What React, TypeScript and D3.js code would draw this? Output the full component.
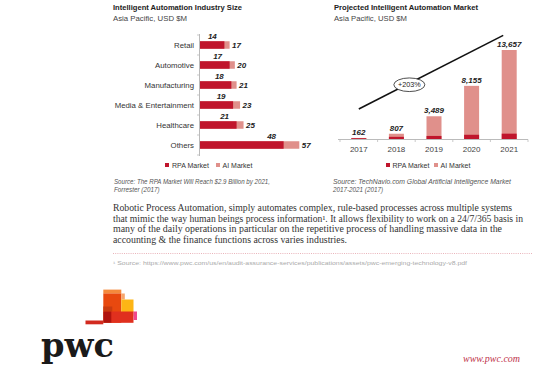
import React from "react";
import * as d3 from "d3";

const industries = ["Retail", "Automotive", "Manufacturing", "Media & Entertainment", "Healthcare", "Others"];
const industryRPA = [14, 17, 18, 19, 21, 48];
const industryTotal = [17, 20, 21, 23, 25, 57];

const years = ["2017", "2018", "2019", "2020", "2021"];
const yearTotal = [162, 807, 3489, 8155, 13657];
const yearTotalLabels = ["162", "807", "3,489", "8,155", "13,657"];
const yearRPA = [120, 330, 470, 650, 820];

const legendLabels = ["RPA Market", "AI Market"];
const growthLabel = "+203%";

const paragraph = [
  "Robotic Process Automation, simply automates complex, rule-based processes across multiple systems",
  "that mimic the way human beings process information\u00B9. It allows flexibility to work on a 24/7/365 basis in",
  "many of the daily operations in particular on the repetitive process of handling massive data in the",
  "accounting & the finance functions across varies industries.",
];

const RPA = "#c0152c";
const AI = "#e0908b";
const SANS = "'Liberation Sans', Arial, sans-serif";
const SERIF = "'Liberation Serif', 'DejaVu Serif', Georgia, serif";

export default function App() {
  // left chart scales
  const yBand = d3.scaleBand<string>().domain(industries).range([35, 155]);
  const xLin = d3.scaleLinear().domain([0, 57]).range([200, 299.3]);
  const barH = 7.5;

  // right chart scales
  const xBand = d3.scaleBand<string>().domain(years).range([340, 528]);
  const yLin = d3.scaleLinear().domain([0, 13657]).range([139, 50]);
  const bw = 15;

  const lx1 = xBand("2017")! + xBand.bandwidth() / 2;
  const ly1 = yLin(4600);
  const lx2 = xBand("2021")! + xBand.bandwidth() / 2 - 6;
  const ly2 = yLin(15900);
  const t = 0.35;
  const ex = lx1 + (lx2 - lx1) * t;
  const ey = ly1 + (ly2 - ly1) * t + 1.5;

  return (
    <svg width={554} height={379} style={{ position: "absolute", left: 0, top: 0, background: "#fff" }}>
      {/* LEFT CHART */}
      <text x={113} y={10} fontFamily={SANS} fontWeight="bold" fontSize={7.4} fill="#222" textLength={129} lengthAdjust="spacingAndGlyphs">Intelligent Automation Industry Size</text>
      <text x={113} y={21} fontFamily={SANS} fontSize={7.4} fill="#444" textLength={74} lengthAdjust="spacingAndGlyphs">Asia Pacific, USD $M</text>

      <line x1={199.5} x2={199.5} y1={34} y2={156} stroke="#bbb" strokeWidth={1} />
      {industries.map((c, i) => (
        <line key={"t" + i} x1={197} x2={199.5} y1={yBand(c)!} y2={yBand(c)!} stroke="#bbb" strokeWidth={0.8} />
      ))}
      <line x1={197} x2={199.5} y1={155} y2={155} stroke="#bbb" strokeWidth={0.8} />
      {industries.map((c, i) => {
        const cy = yBand(c)! + yBand.bandwidth() / 2;
        return (
          <g key={c}>
            <text x={194} y={cy + 2.8} textAnchor="end" fontFamily={SANS} fontSize={7.8} fill="#333">{c}</text>
            <rect x={xLin(0)} y={cy - barH / 2} width={xLin(industryTotal[i]) - xLin(0)} height={barH} fill={AI} />
            <rect x={xLin(0)} y={cy - barH / 2} width={xLin(industryRPA[i]) - xLin(0)} height={barH} fill={RPA} />
            <text x={xLin(industryRPA[i]) - 12} y={cy - barH / 2 - 2} textAnchor="middle" fontFamily={SANS} fontWeight="bold" fontStyle="italic" fontSize={8} fill="#222">{industryRPA[i]}</text>
            <text x={xLin(industryTotal[i]) + 2.5} y={cy + 3} fontFamily={SANS} fontWeight="bold" fontStyle="italic" fontSize={8} fill="#222">{industryTotal[i]}</text>
          </g>
        );
      })}

      {/* left legend */}
      <rect x={165} y={163} width={4} height={4} fill={RPA} />
      <text x={172} y={167.5} fontFamily={SANS} fontSize={7} fill="#333">{legendLabels[0]}</text>
      <rect x={216} y={163} width={4} height={4} fill={AI} />
      <text x={222.5} y={167.5} fontFamily={SANS} fontSize={7} fill="#333">{legendLabels[1]}</text>

      <text x={114} y={184} fontFamily={SANS} fontStyle="italic" fontSize={6.3} fill="#555" textLength={156} lengthAdjust="spacingAndGlyphs">Source: The RPA Market Will Reach $2.9 Billion by 2021,</text>
      <text x={114} y={192} fontFamily={SANS} fontStyle="italic" fontSize={6.3} fill="#555">Forrester (2017)</text>

      {/* RIGHT CHART */}
      <text x={334} y={10} fontFamily={SANS} fontWeight="bold" fontSize={7.4} fill="#222" textLength={144} lengthAdjust="spacingAndGlyphs">Projected Intelligent Automation Market</text>
      <text x={334} y={21} fontFamily={SANS} fontSize={7.4} fill="#444" textLength={73} lengthAdjust="spacingAndGlyphs">Asia Pacific, USD $M</text>

      <line x1={338} x2={528} y1={139.5} y2={139.5} stroke="#bbb" strokeWidth={1} />
      {years.map((yv) => (
        <line key={"yt" + yv} x1={xBand(yv)!} x2={xBand(yv)!} y1={139.5} y2={142} stroke="#bbb" strokeWidth={0.8} />
      ))}
      <line x1={528} x2={528} y1={139.5} y2={142} stroke="#bbb" strokeWidth={0.8} />
      {years.map((yv, i) => {
        const cx = xBand(yv)! + xBand.bandwidth() / 2;
        return (
          <g key={yv}>
            <rect x={cx - bw / 2} y={yLin(yearTotal[i])} width={bw} height={yLin(0) - yLin(yearTotal[i])} fill={AI} />
            <rect x={cx - bw / 2} y={yLin(yearRPA[i])} width={bw} height={yLin(0) - yLin(yearRPA[i])} fill={RPA} />
            <text x={cx} y={yLin(yearTotal[i]) - 3} textAnchor="middle" fontFamily={SANS} fontWeight="bold" fontStyle="italic" fontSize={8} fill="#222">{yearTotalLabels[i]}</text>
            <text x={cx} y={152} textAnchor="middle" fontFamily={SANS} fontSize={8} fill="#444">{yv}</text>
          </g>
        );
      })}

      <line x1={lx1} y1={ly1} x2={lx2} y2={ly2} stroke="#111" strokeWidth={1.6} />
      <ellipse cx={ex} cy={ey} rx={15.5} ry={6.8} fill="#fff" stroke="#222" strokeWidth={0.8} />
      <text x={ex} y={ey + 2.6} textAnchor="middle" fontFamily={SANS} fontSize={7.2} fill="#222">{growthLabel}</text>

      {/* right legend */}
      <rect x={386} y={163} width={4} height={4} fill={RPA} />
      <text x={392.5} y={167.5} fontFamily={SANS} fontSize={7} fill="#333">{legendLabels[0]}</text>
      <rect x={434} y={163} width={4} height={4} fill={AI} />
      <text x={440.5} y={167.5} fontFamily={SANS} fontSize={7} fill="#333">{legendLabels[1]}</text>

      <text x={333} y={184} fontFamily={SANS} fontStyle="italic" fontSize={6.3} fill="#555" textLength={178} lengthAdjust="spacingAndGlyphs">Source: TechNavio.com Global Artificial Intelligence Market</text>
      <text x={333} y={192} fontFamily={SANS} fontStyle="italic" fontSize={6.3} fill="#555">2017-2021 (2017)</text>

      {/* paragraph */}
      {paragraph.map((line, i) => (
        <text key={"p" + i} x={113} y={211 + i * 10.6} fontFamily={SERIF} fontSize={9.6} fill="#333"
          textLength={[399, 410, 389, 234][i]} lengthAdjust="spacingAndGlyphs">{line}</text>
      ))}
      <line x1={113} x2={532} y1={253.5} y2={253.5} stroke="#e3a0a8" strokeWidth={0.8} strokeDasharray="1,1.2" />
      <text x={113} y={264.5} fontFamily={SANS} fontSize={5.3} fill="#aaa" textLength={354} lengthAdjust="spacingAndGlyphs">{"\u00B9 Source: https://www.pwc.com/us/en/audit-assurance-services/publications/assets/pwc-emerging-technology-v8.pdf"}</text>

      {/* logo */}
      <g>
        <rect x={103.3} y={289.6} width={18} height={4} fill="#f58a3c" />
        <rect x={103.3} y={293.5} width={18} height={29.3} fill="#e8490f" />
        <rect x={121.3} y={293.5} width={3.5} height={6} fill="#f7a66c" />
        <rect x={121.3} y={299.5} width={12.2} height={17} fill="#fdb515" />
        <rect x={111} y={311.5} width={22.5} height={11.3} fill="#e0301e" />
        <rect x={103.3} y={306.5} width={9} height={5} fill="#c93c10" />
        <rect x={103.3} y={311.5} width={8} height={11.3} fill="#b0140e" />
        <rect x={133.5} y={311.5} width={3.5} height={8.5} fill="#f0488c" />
        <rect x={85.5} y={320.5} width={17.8} height={3.8} fill="#d22a1f" />
      </g>
      <text x={41} y={357} fontFamily="'DejaVu Serif', serif" fontWeight="bold" fontSize={33} fill="#1a1a1a" textLength={73} lengthAdjust="spacingAndGlyphs">pwc</text>
      <text x={463} y={362} fontFamily="'Liberation Serif', serif" fontStyle="italic" fontSize={10} fill="#c0334a">www.pwc.com</text>
    </svg>
  );
}
